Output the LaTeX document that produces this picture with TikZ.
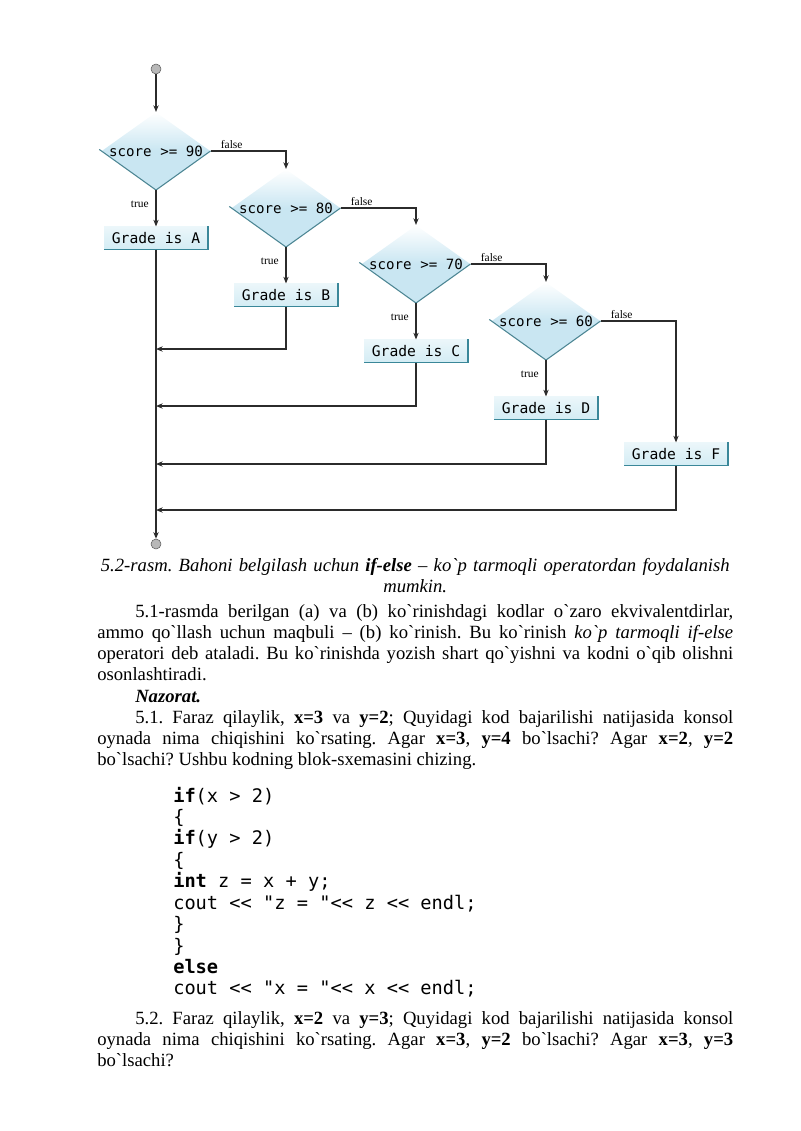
\documentclass[tikz,border=0pt]{standalone}
\usepackage{fontspec}
\setmainfont{Liberation Serif}[Ligatures=TeXOff]
\setmonofont{DejaVu Sans Mono}
\usetikzlibrary{arrows.meta,shapes.geometric}
\definecolor{diablue}{HTML}{C9E6F2}
\definecolor{boxblue}{HTML}{D3ECF4}
\definecolor{rimteal}{HTML}{3A8799}
\definecolor{wire}{HTML}{2B2B2B}
\tikzset{
    monosp/.style={execute at begin node={\spaceskip=0.602em\relax}},
    dia/.style={shape=diamond, shape aspect=1.4, minimum width=80pt, minimum height=57pt,
        inner sep=0pt, top color=white, bottom color=diablue, middle color=diablue,
        font=\ttfamily\fontsize{10.6}{12}\selectfont, monosp},
    grade/.style={minimum width=78pt, minimum height=17pt, inner sep=0pt,
        top color=boxblue!45, bottom color=boxblue,
        font=\ttfamily\fontsize{11}{12}\selectfont, monosp},
    term/.style={circle, draw=black!65, fill=black!28, minimum size=7.5pt, inner sep=0pt},
    flow/.style={draw=wire, line width=0.9pt, -{Stealth[length=5pt,width=4pt]}},
    diarim/.style={draw=rimteal!75!gray, line width=0.8pt},
    boxrim/.style={draw=rimteal, line width=1.2pt},
    tf/.style={font=\fontsize{8.6}{10}\selectfont, inner sep=1pt},
    para/.style={anchor=base west, inner sep=0pt, text width=477pt, align=justify,
        font=\fontsize{14}{15.85}\selectfont\frenchspacing},
}
\begin{document}
\begin{tikzpicture}[x=0.75pt, y=-0.75pt]
    \useasboundingbox (0,0) rectangle (800,1131);
    \node[term] (start) at (156,69) {};
    \node[dia] (d90) at (156,151) {score >= 90};
    \node[dia] (d80) at (286,208) {score >= 80};
    \node[dia] (d70) at (416,264) {score >= 70};
    \node[dia] (d60) at (546,321) {score >= 60};
    \node[grade] (gA) at (156,238) {Grade is A};
    \node[grade] (gB) at (286,295) {Grade is B};
    \node[grade] (gC) at (416,351) {Grade is C};
    \node[grade] (gD) at (546,408) {Grade is D};
    \node[grade] (gF) at (676,454) {Grade is F};
    \node[term] (stop) at (156,544) {};
    \coordinate (jB) at (156,349);
    \coordinate (jC) at (156,406);
    \coordinate (jD) at (156,464);
    \coordinate (jF) at (156,510);
    \foreach \d in {d90,d80,d70,d60}
        \draw[diarim, shorten <=-2pt] (\d.west) -- (\d.south) -- (\d.east);
    \foreach \g in {gA,gB,gC,gD,gF}
        \draw[boxrim] (\g.north east) -- (\g.south east) -- (\g.south west);
    \draw[flow] (start) -- (d90.north);
    \draw[flow] (d90.south) -- node[tf, left=4pt, pos=0.4] {true} (gA.north);
    \draw[flow] (d80.south) -- node[tf, left=4pt, pos=0.4] {true} (gB.north);
    \draw[flow] (d70.south) -- node[tf, left=4pt, pos=0.4] {true} (gC.north);
    \draw[flow] (d60.south) -- node[tf, left=4pt, pos=0.4] {true} (gD.north);
    \draw[flow] (d90.east) -| node[tf, above, pos=0.14] {false} (d80.north);
    \draw[flow] (d80.east) -| node[tf, above, pos=0.14] {false} (d70.north);
    \draw[flow] (d70.east) -| node[tf, above, pos=0.14] {false} (d60.north);
    \draw[flow] (d60.east) -| node[tf, above, pos=0.14] {false} (gF.north);
    \draw[flow] (gA.south) -- (stop);
    \draw[flow] (gB.south) |- (jB);
    \draw[flow] (gC.south) |- (jC);
    \draw[flow] (gD.south) |- (jD);
    \draw[flow] (gF.south) |- (jF);
    \node[para, align=center] (cap) at (97,571) {\itshape 5.2-rasm. Bahoni belgilash uchun \textbf{if-else} – ko`p tarmoqli operatordan foydalanish\\ mumkin.};
    \node[para] (p1) at (97,617) {\hspace*{28.5pt}5.1-rasmda berilgan (a) va (b) ko`rinishdagi kodlar o`zaro ekvivalentdirlar,\linebreak ammo qo`llash uchun maqbuli – (b) ko`rinish. Bu ko`rinish \textit{ko`p tarmoqli if-else}\linebreak operatori deb ataladi. Bu ko`rinishda yozish shart qo`yishni va kodni o`qib olishni\linebreak osonlashtiradi.};
    \node[para] (naz) at (97,702) {\hspace*{28.5pt}\textbf{\textit{Nazorat.}}};
    \node[para] (p2) at (97,723) {\hspace*{28.5pt}5.1. Faraz qilaylik, \textbf{x=3} va \textbf{y=2}; Quyidagi kod bajarilishi natijasida konsol\linebreak oynada nima chiqishini ko`rsating. Agar \textbf{x=3}, \textbf{y=4} bo`lsachi? Agar \textbf{x=2}, \textbf{y=2}\linebreak bo`lsachi? Ushbu kodning blok-sxemasini chizing.};
    \node[para, text width=400pt, align=left, font=\ttfamily\fontsize{14}{16.08}\selectfont, monosp] (src) at (173,802) {\textbf{if}(x > 2)\\ \{\\ \textbf{if}(y > 2)\\ \{\\ \textbf{int} z = x + y;\\ cout << "z = "<< z << endl;\\ \}\\ \}\\ \textbf{else}\\ cout << "x = "<< x << endl;};
    \node[para] (p3) at (97,1024) {\hspace*{28.5pt}5.2. Faraz qilaylik, \textbf{x=2} va \textbf{y=3}; Quyidagi kod bajarilishi natijasida konsol\linebreak oynada nima chiqishini ko`rsating. Agar \textbf{x=3}, \textbf{y=2} bo`lsachi? Agar \textbf{x=3}, \textbf{y=3}\linebreak bo`lsachi?};
\end{tikzpicture}
\end{document}
